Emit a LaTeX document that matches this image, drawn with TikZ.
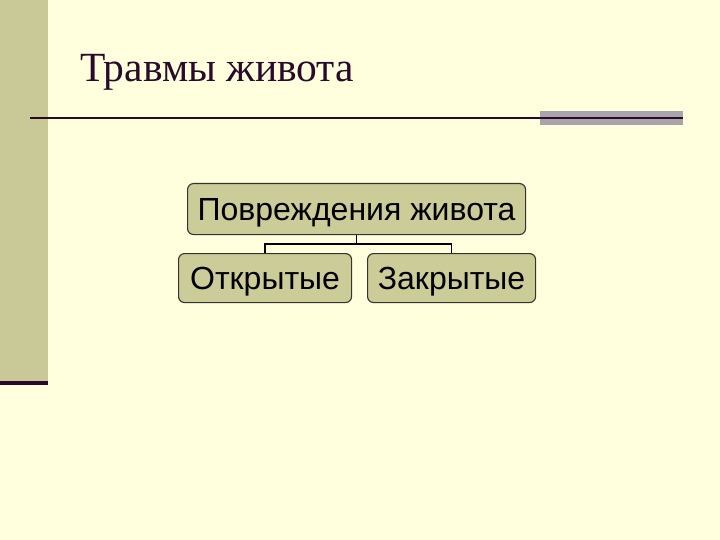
\documentclass[tikz,border=0pt]{standalone}
\usepackage{fontspec}
\usetikzlibrary{calc}
\setmainfont{Liberation Serif}
\newfontfamily\boxfont{Liberation Sans}
\definecolor{bgc}{HTML}{FFFFDD}
\definecolor{barc}{HTML}{C9C997}
\definecolor{boxc}{HTML}{CCCC99}
\definecolor{darkc}{HTML}{2A0A2A}
\definecolor{grayc}{HTML}{A9A4A9}
\tikzset{
  orgbox/.style={draw=black!80, line width=1.1pt, fill=boxc, rounded corners=6pt, font=\boxfont\fontsize{32}{34}\selectfont, inner sep=0pt, text depth=0pt, anchor=north west},
  conn/.style={draw=black, line width=1.7pt}
}
\begin{document}
\begin{tikzpicture}[x=1pt,y=-1pt]
\useasboundingbox (0,0) rectangle (720,540);
\fill[bgc] (0,0) rectangle (720,540);
\fill[barc] (0,0) rectangle (48,382);
\fill[darkc] (0,381) rectangle (48,385);
\fill[grayc] (540,111) rectangle (683,125);
\draw[darkc, line width=2pt] (30,118) -- (683,118);
\node[anchor=base west, inner sep=0pt, font=\fontsize{41.5}{44}\selectfont, text=darkc] (title) at (80,82) {Травмы живота};
\node[orgbox, minimum width=338pt, minimum height=51pt] (top) at (187,183) {Повреждения живота};
\node[orgbox, minimum width=173pt, minimum height=49pt] (left) at (178,253) {Открытые};
\node[orgbox, minimum width=168pt, minimum height=49pt] (right) at (367,253) {Закрытые};
\coordinate (mid) at ($(top.south)+(0,9)$);
\draw[conn] (top.south) -- (mid) -| (left.north);
\draw[conn] (mid) -| (right.north);
\end{tikzpicture}
\end{document}
